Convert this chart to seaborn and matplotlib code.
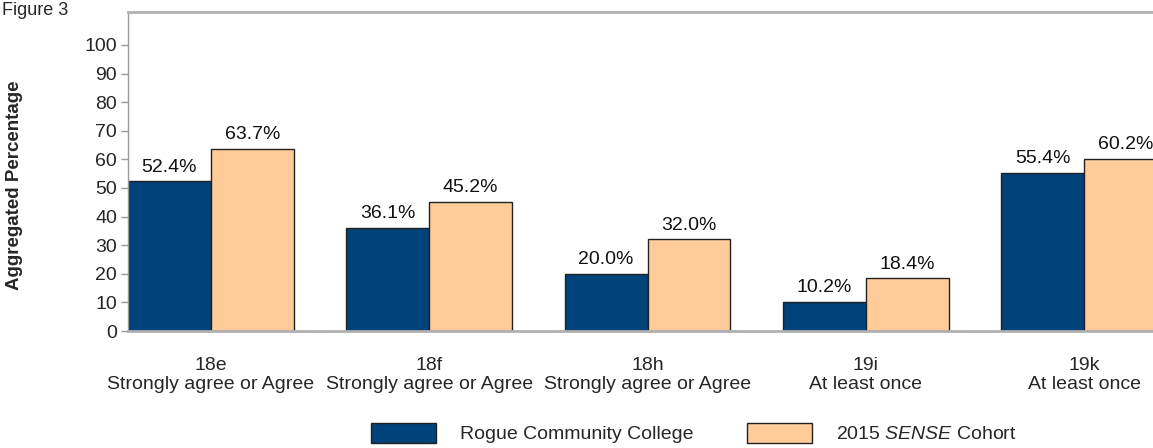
import pandas as pd
import matplotlib.pyplot as plt
import seaborn as sns
from matplotlib.patches import Patch

# Chart data
items = ["18e", "18f", "18h", "19i", "19k"]
answers = ["Strongly agree or Agree", "Strongly agree or Agree",
           "Strongly agree or Agree", "At least once", "At least once"]
college = [52.4, 36.1, 20.0, 10.2, 55.4]
cohort = [63.7, 45.2, 32.0, 18.4, 60.2]
series = ["Rogue Community College", "2015 SENSE Cohort"]

labels = [f"{i}\n{a}" for i, a in zip(items, answers)]
df = pd.DataFrame({
    "item": labels * 2,
    "group": [series[0]] * len(labels) + [series[1]] * len(labels),
    "pct": college + cohort,
})

sns.set_style("white")
plt.rcParams["font.family"] = ["Liberation Sans", "DejaVu Sans"]
plt.rcParams["mathtext.fontset"] = "custom"
plt.rcParams["mathtext.rm"] = "Liberation Sans"
plt.rcParams["mathtext.it"] = "Liberation Sans:italic"

blue = "#00427A"
peach = "#FFCC99"

fig = plt.figure(figsize=(11.53, 4.48), dpi=100)
ax = fig.add_axes([128 / 1153, 117 / 448, 1039 / 1153, 319 / 448])

sns.barplot(data=df, x="item", y="pct", hue="group", ax=ax,
            palette={series[0]: blue, series[1]: peach}, saturation=1,
            width=0.76, edgecolor="#222222", linewidth=1, legend=False)

for cont in ax.containers:
    ax.bar_label(cont, fmt="%.1f%%", padding=4, fontsize=14, color="#111111")

ax.set_xlim(-0.38, 4.38)
ax.set_ylim(0, 111.5)
ax.set_yticks(range(0, 101, 10))
ax.set_xlabel("")
ax.set_ylabel("")
ax.tick_params(axis="y", labelsize=14, length=5, width=1, color="#999999",
               left=True, pad=3)
ax.tick_params(axis="x", labelsize=14, length=0, pad=19)
for lbl in ax.get_xticklabels():
    lbl.set_linespacing(1.1)

for side in ["top", "bottom"]:
    ax.spines[side].set_color("#b0b0b0")
    ax.spines[side].set_linewidth(2)
ax.spines["left"].set_color("#999999")
ax.spines["left"].set_linewidth(1)
ax.spines["right"].set_visible(False)

fig.text(15 / 1153, 1 - 185 / 448, "Aggregated Percentage", rotation=90,
         fontsize=13.5, fontweight="bold", ha="center", va="center")
fig.text(2 / 1153, 1 - 2 / 448, "Figure 3", fontsize=13, ha="left", va="top")

handles = [Patch(facecolor=blue, edgecolor="#222222"),
           Patch(facecolor=peach, edgecolor="#222222")]
fig.legend(handles, ["Rogue Community College", "2015 $\\it{SENSE}$ Cohort"],
           loc="center", bbox_to_anchor=(694 / 1153, 1 - 433 / 448), ncol=2,
           frameon=False, fontsize=14, handlelength=3.35, handleheight=1.2,
           handletextpad=1.24, columnspacing=2.75)

plt.savefig("out.png", dpi=100)
